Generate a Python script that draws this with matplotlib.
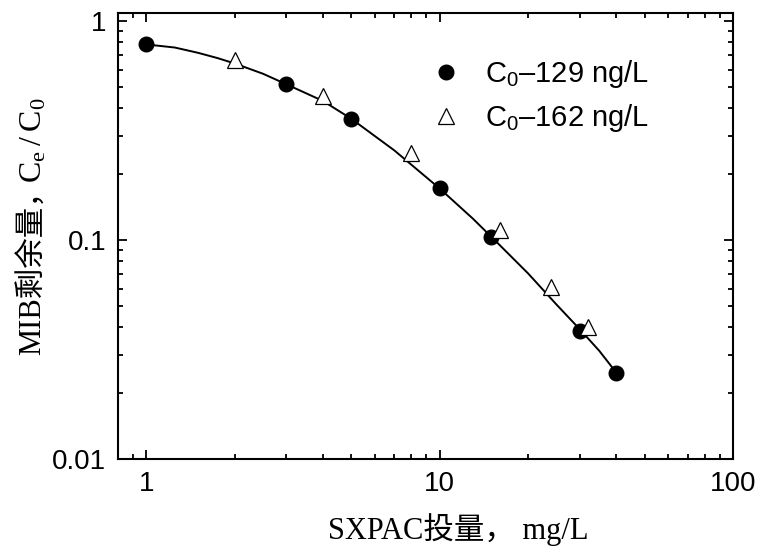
import numpy as np
import matplotlib
matplotlib.use("Agg")
import matplotlib.pyplot as plt
from matplotlib.ticker import LogLocator, FixedLocator, FixedFormatter, NullFormatter

# data
dose_129 = [1, 3, 5, 10, 15, 30, 40]
ratio_129 = [0.783, 0.514, 0.356, 0.173, 0.103, 0.0384, 0.0248]

dose_162 = [2, 4, 8, 16, 24, 32]
ratio_162 = [0.664, 0.454, 0.249, 0.111, 0.0612, 0.0402]

fit_dose = [1, 1.25, 1.5, 1.75, 2, 2.5, 3, 4, 5, 7, 10, 13, 16, 20, 25, 30, 35, 40]
fit_ratio = [0.783, 0.758, 0.717, 0.678, 0.641, 0.575, 0.515, 0.432, 0.358, 0.257,
             0.172, 0.125, 0.095, 0.0705, 0.0508, 0.0392, 0.0312, 0.0248]

legend_labels = [r"$\mathsf{C_0}$–129 ng/L", r"$\mathsf{C_0}$–162 ng/L"]

plt.rcParams["font.family"] = ["Liberation Sans", "Noto Sans CJK SC"]
plt.rcParams["mathtext.fontset"] = "custom"
plt.rcParams["mathtext.rm"] = "Liberation Serif"
plt.rcParams["mathtext.sf"] = "Liberation Sans"
plt.rcParams["axes.unicode_minus"] = False

fig = plt.figure(figsize=(7.59, 5.46), dpi=100)
ax = fig.add_axes([118 / 759, 1 - 459 / 546, 615 / 759, 446 / 546])

ax.plot(fit_dose, fit_ratio, color="black", lw=1.4, zorder=2)
ax.plot(dose_129, ratio_129, "o", ms=10.5, color="black", label=legend_labels[0], zorder=3)
ax.plot(dose_162, ratio_162, "^", ms=11, mfc="white", mec="black", mew=0.9,
        label=legend_labels[1], zorder=3)

ax.set_xscale("log")
ax.set_yscale("log")
ax.set_xlim(0.8, 100)
ax.set_ylim(0.01, 1.09)

ax.xaxis.set_major_locator(FixedLocator([1, 10, 100]))
ax.xaxis.set_major_formatter(FixedFormatter(["1", "10", "100"]))
ax.xaxis.set_minor_locator(LogLocator(base=10, subs=np.arange(2, 10)))
ax.xaxis.set_minor_formatter(NullFormatter())
ax.yaxis.set_major_locator(FixedLocator([0.01, 0.1, 1]))
ax.yaxis.set_major_formatter(FixedFormatter(["0.01", "0.1", "1"]))
ax.yaxis.set_minor_locator(LogLocator(base=10, subs=np.arange(2, 10)))
ax.yaxis.set_minor_formatter(NullFormatter())

ax.tick_params(which="both", direction="in", top=True, right=True, width=1.3)
ax.tick_params(which="major", length=6.5, labelsize=20, pad=8.5)
ax.tick_params(which="minor", length=3.5)
for s in ax.spines.values():
    s.set_linewidth(1.5)

label_font = ["Liberation Serif", "Noto Sans CJK SC"]
ax.set_xlabel("SXPAC投量， mg/L", family=label_font, fontsize=22)
ax.xaxis.set_label_coords(0.554, -0.122)

# y label in two pieces: CJK part, then C_e/C_0 with real subscripts
ax.text(-0.125, 0.233, "MIB剩余量，", transform=ax.transAxes, rotation=90,
        rotation_mode="anchor", ha="left", va="baseline", family=label_font, fontsize=22)
ax.text(-0.125, 0.619, r"$\mathrm{C_e\,/\,C_0}$", transform=ax.transAxes, rotation=90,
        rotation_mode="anchor", ha="left", va="baseline", fontsize=23)

ax.legend(loc="upper left", bbox_to_anchor=(0.49, 0.925), frameon=False,
          fontsize=21, handlelength=1.0, handletextpad=0.85, labelspacing=0.4,
          borderaxespad=0)

fig.savefig("out.png", dpi=100)
